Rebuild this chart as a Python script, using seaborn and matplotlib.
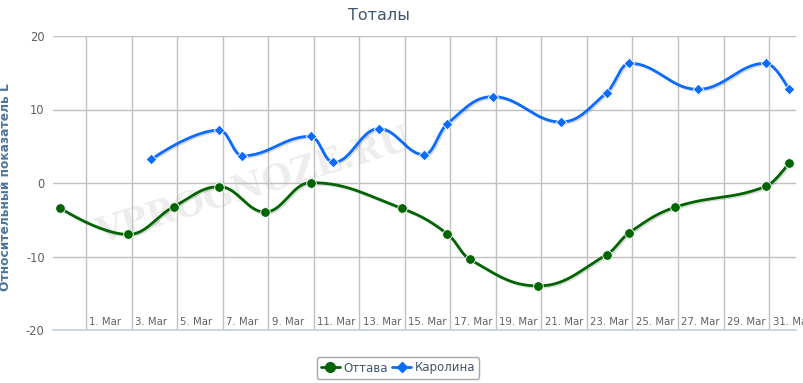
import numpy as np
import pandas as pd
import matplotlib.pyplot as plt
import matplotlib.patheffects as pe
import seaborn as sb

# data (value per day)
ottawa_dates = ['2014-02-28', '2014-03-03', '2014-03-05', '2014-03-07', '2014-03-09',
                '2014-03-11', '2014-03-15', '2014-03-17', '2014-03-18', '2014-03-21',
                '2014-03-24', '2014-03-25', '2014-03-27', '2014-03-31', '2014-04-01']
ottawa_values = [-3.4, -7.0, -3.2, -0.5, -3.95, 0.05, -3.45, -6.9, -10.4, -14.0,
                 -9.75, -6.75, -3.3, -0.45, 2.7]

carolina_dates = ['2014-03-04', '2014-03-07', '2014-03-08', '2014-03-11', '2014-03-12',
                  '2014-03-14', '2014-03-16', '2014-03-17', '2014-03-19', '2014-03-22',
                  '2014-03-24', '2014-03-25', '2014-03-28', '2014-03-31', '2014-04-01']
carolina_values = [3.2, 7.2, 3.7, 6.35, 2.8, 7.4, 3.85, 8.05, 11.75, 8.3,
                   12.3, 16.3, 12.75, 16.3, 12.75]

tick_dates = pd.date_range('2014-03-01', '2014-03-31', freq='2D')
tick_labels = [f"{d.day}. Mar" for d in tick_dates]
y_ticks = [-20, -10, 0, 10, 20]

title = 'Тоталы'
y_title = 'Относительный показатель L'
names = ['Оттава', 'Каролина']
colors = ['#006400', '#0a6cff']
markers = ['o', 'D']

tz_shift = -3.3 / 24  # points sit a few hours before midnight ticks
origin = pd.Timestamp('2014-03-01')


def to_days(dates):
    return np.array([(pd.Timestamp(d) - origin).days for d in dates], float) + tz_shift


def spline(x, y, smoothing=1.5, n=30):
    # highcharts style bezier spline
    x = np.asarray(x, float)
    y = np.asarray(y, float)
    m = len(x)
    lc = np.column_stack([x, y]).astype(float)
    rc = np.column_stack([x, y]).astype(float)
    d = smoothing + 1
    for i in range(1, m - 1):
        lx = (smoothing * x[i] + x[i - 1]) / d
        ly = (smoothing * y[i] + y[i - 1]) / d
        rx = (smoothing * x[i] + x[i + 1]) / d
        ry = (smoothing * y[i] + y[i + 1]) / d
        corr = ((ry - ly) * (rx - x[i])) / (rx - lx) + y[i] - ry
        ly += corr
        ry += corr
        if ly > y[i - 1] and ly > y[i]:
            ly = max(y[i - 1], y[i]); ry = 2 * y[i] - ly
        elif ly < y[i - 1] and ly < y[i]:
            ly = min(y[i - 1], y[i]); ry = 2 * y[i] - ly
        if ry > y[i + 1] and ry > y[i]:
            ry = max(y[i + 1], y[i]); ly = 2 * y[i] - ry
        elif ry < y[i + 1] and ry < y[i]:
            ry = min(y[i + 1], y[i]); ly = 2 * y[i] - ry
        lc[i] = (lx, ly)
        rc[i] = (rx, ry)
    t = np.linspace(0, 1, n)[:, None]
    pts = []
    for i in range(m - 1):
        p0 = np.array([x[i], y[i]]); p3 = np.array([x[i + 1], y[i + 1]])
        p1 = rc[i]; p2 = lc[i + 1]
        seg = ((1 - t) ** 3) * p0 + 3 * ((1 - t) ** 2) * t * p1 + 3 * (1 - t) * t ** 2 * p2 + t ** 3 * p3
        pts.append(seg if i == 0 else seg[1:])
    pts = np.vstack(pts)
    return pts[:, 0], pts[:, 1]


sb.set_style('white')
plt.rcParams['font.family'] = ['DejaVu Sans']

fig = plt.figure(figsize=(8.04, 3.83), dpi=100)
ax = fig.add_axes([53 / 804, 1 - 330 / 383, (796 - 53) / 804, (330 - 36) / 383])

ax.text(0.27, 0.49, 'VPROGNOZE.RU', transform=ax.transAxes, rotation=17,
        fontsize=25, family='DejaVu Serif', fontweight='bold', color='#ededed',
        ha='center', va='center', zorder=0)

series = [(ottawa_dates, ottawa_values), (carolina_dates, carolina_values)]
handles = []
for (dates, vals), name, col, mk in zip(series, names, colors, markers):
    xd = to_days(dates)
    sx, sy = spline(xd, vals)
    curve = pd.DataFrame({'x': sx, 'y': sy})
    sb.lineplot(data=curve, x='x', y='y', sort=False, color=col, linewidth=2,
                ax=ax, zorder=3,
                path_effects=[pe.SimpleLineShadow(offset=(1, -1), alpha=0.15, shadow_color='black'),
                              pe.Normal()])
    pts = pd.DataFrame({'x': xd, 'y': vals})
    sb.scatterplot(data=pts, x='x', y='y', color=col, marker=mk,
                   s=48 if mk == 'o' else 30, edgecolor='white', linewidth=0.6,
                   ax=ax, zorder=4)
    handles.append(plt.Line2D([], [], color=col, marker=mk, lw=2,
                              markersize=7 if mk == 'o' else 5.5, label=name))

x_left = (53 - 86) / 22.77
x_right = (796 - 86) / 22.77
ax.set_xlim(x_left, x_right)
ax.set_ylim(-20, 20)

tick_pos = [(d - origin).days for d in tick_dates]
ax.set_xticks(tick_pos)
ax.set_xticklabels([])
ax.tick_params(axis='x', length=0)
for p, lab in zip(tick_pos, tick_labels):
    ax.text(p + 0.15, -18.9, lab, fontsize=7.3, color='#606060', ha='left', va='center')

ax.set_yticks(y_ticks)
ax.set_yticklabels([str(v) for v in y_ticks], fontsize=8.3, color='#606060')
ax.tick_params(axis='y', length=0, pad=6)

ax.grid(True, color='#c0c0c0', linewidth=1)
ax.set_axisbelow(True)
for s in ['top', 'right', 'left']:
    ax.spines[s].set_visible(False)
ax.spines['bottom'].set_color('#c0d0e0')
ax.spines['bottom'].set_linewidth(1.2)

ax.set_xlabel('')
ax.set_ylabel(y_title, fontsize=8.8, fontweight='bold', color='#4d759e')
ax.yaxis.set_label_coords((12 - 53) / 743, (330 - 187) / 294)

fig.text(379 / 804, 1 - 16 / 383, title, fontsize=11.5, color='#3e576f',
         ha='center', va='center')

leg = fig.legend(handles=handles, loc='center', bbox_to_anchor=(398 / 804, 1 - 368 / 383),
                 ncol=2, frameon=True, fancybox=True, fontsize=8.5, handlelength=1.6,
                 handletextpad=0.3, columnspacing=0.4, borderpad=0.35,
                 edgecolor='#909090')
for t in leg.get_texts():
    t.set_color('#3e576f')
leg.get_frame().set_linewidth(1)

fig.savefig('out.png', dpi=100)
